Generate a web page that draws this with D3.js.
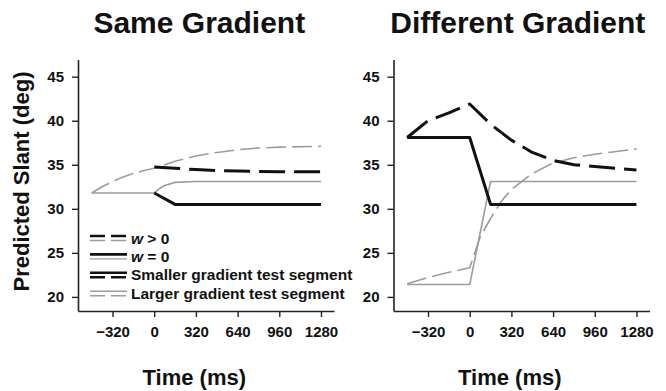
<!DOCTYPE html>
<html>
<head>
<meta charset="utf-8">
<script src="https://cdn.jsdelivr.net/npm/d3@7"></script>
<style>
  html, body { margin: 0; padding: 0; background: #fff; }
  svg { display: block; font-family: "Liberation Sans", Arial, Helvetica, sans-serif; }
</style>
</head>
<body>
<svg id="chart" width="666" height="391"></svg>
<script>
// Axis settings
const timeDomain = [-585, 1380];
const slantDomain = [18.4, 46.95];
const timeTicks = [-320, 0, 320, 640, 960, 1280];
const slantTicks = [20, 25, 30, 35, 40, 45];

// Same gradient panel: [time (ms), predicted slant (deg)]
const sameSmallerW0 = [[0, 31.8], [160, 30.5], [1280, 30.5]];
const sameSmallerWpos = [[0, 34.75], [160, 34.6], [320, 34.45], [480, 34.35], [640, 34.3], [960, 34.2], [1280, 34.2]];
const sameLargerW0 = [[-480, 31.8], [0, 31.8], [40, 32.3], [80, 32.65], [160, 33.0], [320, 33.1], [1280, 33.1]];
const sameLargerWpos = [[-480, 31.8], [-400, 32.5], [-320, 33.1], [-240, 33.6], [-160, 34.0], [-80, 34.35], [0, 34.6],
                        [160, 35.4], [320, 36.0], [480, 36.4], [640, 36.7], [800, 36.9], [960, 37.0], [1280, 37.1]];

// Different gradient panel
const diffSmallerW0 = [[-480, 38.1], [0, 38.1], [160, 30.5], [1280, 30.5]];
const diffSmallerWpos = [[-480, 38.1], [-320, 40.0], [-160, 40.9], [0, 41.9], [160, 39.6], [320, 37.8], [480, 36.4],
                         [640, 35.5], [800, 35.0], [960, 34.8], [1280, 34.4]];
const diffLargerW0 = [[-480, 21.4], [0, 21.4], [160, 33.1], [1280, 33.1]];
const diffLargerWpos = [[-480, 21.5], [-320, 22.2], [-160, 22.8], [0, 23.3], [80, 26.8], [160, 28.9], [240, 30.8],
                        [320, 32.2], [480, 34.0], [640, 35.2], [800, 35.8], [960, 36.2], [1280, 36.8]];

const panelTitles = ["Same Gradient", "Different Gradient"];
const legendLabels = ["w > 0", "w = 0", "Smaller gradient test segment", "Larger gradient test segment"];

const BLACK = "#111";
const GRAY = "#9c9c9c";
const styles = {
  smallerW0:   { stroke: BLACK, width: 3, dash: null },
  smallerWpos: { stroke: BLACK, width: 3, dash: "26,9" },
  largerW0:    { stroke: GRAY, width: 1.6, dash: null },
  largerWpos:  { stroke: GRAY, width: 1.6, dash: "20,6" }
};

const panels = [
  { title: panelTitles[0], x0: 78, titleShift: 6,
    series: [["largerWpos", sameLargerWpos], ["largerW0", sameLargerW0], ["smallerWpos", sameSmallerWpos], ["smallerW0", sameSmallerW0]] },
  { title: panelTitles[1], x0: 393.5, titleShift: 9,
    series: [["largerWpos", diffLargerWpos], ["largerW0", diffLargerW0], ["smallerWpos", diffSmallerWpos], ["smallerW0", diffSmallerW0]] }
];

const svg = d3.select("#chart");
const plotW = 256, yTop = 59.5, yBottom = 311;
const y = d3.scaleLinear().domain(slantDomain).range([yBottom, yTop]);

panels.forEach((p, i) => {
  const x = d3.scaleLinear().domain(timeDomain).range([p.x0, p.x0 + plotW]);
  const g = svg.append("g");

  // axes
  const xAxis = d3.axisBottom(x).tickValues(timeTicks).tickSize(6).tickSizeOuter(0).tickPadding(9).tickFormat(d3.format("d"));
  const yAxis = d3.axisLeft(y).tickValues(slantTicks).tickSize(6).tickSizeOuter(0).tickPadding(8);
  [g.append("g").attr("transform", `translate(0,${yBottom})`).call(xAxis),
   g.append("g").attr("transform", `translate(${p.x0},0)`).call(yAxis)].forEach(a => {
    a.select(".domain").attr("stroke", "#222").attr("stroke-width", 1.6);
    a.selectAll(".tick line").attr("stroke", "#222").attr("stroke-width", 1.4);
    a.selectAll(".tick text").attr("fill", "#111").attr("font-size", 15).attr("font-weight", "bold")
      .attr("font-family", "'Liberation Sans', Arial, sans-serif");
  });
  g.selectAll(".domain").attr("fill", "none");

  // lines
  const line = d3.line().x(d => x(d[0])).y(d => y(d[1]));
  p.series.forEach(([key, data]) => {
    const s = styles[key];
    g.append("path").datum(data).attr("d", line)
      .attr("fill", "none").attr("stroke", s.stroke).attr("stroke-width", s.width)
      .attr("stroke-dasharray", s.dash).attr("stroke-linejoin", "round");
  });

  // panel title
  svg.append("text").attr("x", x(300) + p.titleShift).attr("y", 33)
    .attr("text-anchor", "middle").attr("font-size", 30).attr("font-weight", "bold").attr("fill", "#111")
    .text(p.title);

  // x axis title
  svg.append("text").attr("x", x(300) + 1).attr("y", 385)
    .attr("text-anchor", "middle").attr("font-size", 22).attr("font-weight", "bold").attr("fill", "#111")
    .text("Time (ms)");
});

// y axis title
svg.append("text").attr("transform", `translate(29,181.5) rotate(-90)`)
  .attr("text-anchor", "middle").attr("font-size", 22).attr("font-weight", "bold").attr("fill", "#111")
  .text("Predicted Slant (deg)");

// legend: each entry shows a pair of line samples
const legendRows = [
  { label: legendLabels[0], top: "smallerWpos", bottom: "largerWpos" },
  { label: legendLabels[1], top: "smallerW0", bottom: "largerW0" },
  { label: legendLabels[2], top: "smallerW0", bottom: "smallerWpos" },
  { label: legendLabels[3], top: "largerW0", bottom: "largerWpos" }
];
const lg = svg.append("g").attr("transform", "translate(90,238)");
legendRows.forEach((r, i) => {
  const row = lg.append("g").attr("transform", `translate(0,${i * 18.4})`);
  [[r.top, -2], [r.bottom, 2.5]].forEach(([key, dy]) => {
    const s = styles[key];
    row.append("line").attr("x1", 0).attr("x2", 37).attr("y1", dy).attr("y2", dy)
      .attr("stroke", s.stroke).attr("stroke-width", s.stroke === BLACK ? 2.6 : 1.4)
      .attr("stroke-dasharray", s.dash ? "15,6" : null);
  });
  const t = row.append("text").attr("x", 41).attr("y", 5.5)
    .attr("font-size", 15.5).attr("font-weight", "bold").attr("fill", "#111");
  if (r.label.startsWith("w")) {
    t.append("tspan").attr("font-style", "italic").text("w");
    t.append("tspan").text(r.label.slice(1));
  } else {
    t.text(r.label);
  }
});
</script>
</body>
</html>
